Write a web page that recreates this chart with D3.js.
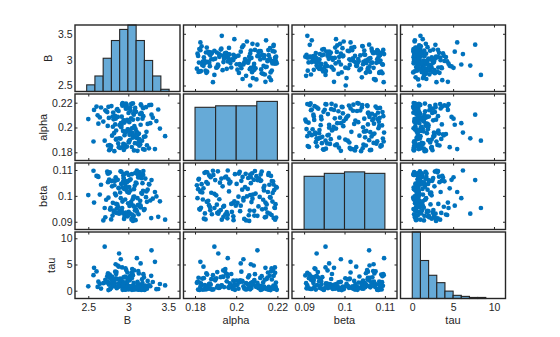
<!DOCTYPE html>
<html>
<head>
<meta charset="utf-8">
<script src="https://cdn.jsdelivr.net/npm/d3@7"></script>
<style>
  html, body { margin: 0; padding: 0; background: #fff; }
  svg { display: block; }
  text { font-family: "Liberation Sans", Arial, Helvetica, sans-serif; fill: #262626; }
</style>
</head>
<body>
<svg id="chart" width="560" height="337"></svg>
<script>
// ---- samples (one entry per draw) ----
const B = [
  2.705, 3.290, 2.885, 3.107, 2.906, 3.333, 3.154, 2.842, 2.500, 3.460,
  3.012, 2.874, 3.186, 2.953, 3.064, 2.761, 2.918, 3.227, 3.041, 2.983,
  2.807, 3.093, 2.965, 3.138, 2.724, 3.005, 2.941, 3.172, 2.856, 3.258,
  2.617, 3.052, 2.978, 3.119, 2.836, 3.024, 2.903, 3.306, 2.772, 3.081,
  2.992, 3.163, 2.845, 3.037, 2.958, 2.688, 3.124, 2.927, 3.071, 2.816,
  3.213, 2.969, 3.008, 2.743, 3.146, 2.881, 3.058, 2.934, 3.275, 2.565,
  3.097, 2.826, 2.986, 3.132, 2.752, 3.018, 2.947, 3.184, 2.863, 3.045,
  2.644, 3.109, 2.974, 3.233, 2.914, 3.068, 2.797, 3.156, 2.938, 3.351,
  3.029, 2.713, 2.961, 3.177, 2.852, 3.086, 2.997, 3.242, 2.786, 3.003,
  2.923, 3.142, 2.834, 3.049, 2.659, 3.115, 2.956, 3.195, 2.878, 3.062,
  2.768, 3.034, 2.982, 3.286, 2.898, 3.167, 2.822, 3.076, 2.603, 3.128,
  2.949, 3.015, 2.737, 3.204, 2.971, 3.091, 2.868, 3.149, 2.911, 3.374,
  3.055, 2.789, 2.935, 3.119, 2.848, 3.027, 2.779, 3.188, 2.966, 3.262,
  2.626, 3.083, 2.989, 3.138, 2.757, 3.044, 2.929, 3.395, 2.811, 3.073,
  3.221, 2.944, 2.803, 3.103, 2.572, 3.006, 2.891, 3.163, 2.746, 3.058
];
const alpha = [
  0.1894, 0.2103, 0.1913, 0.1959, 0.2035, 0.1826, 0.2022, 0.2071, 0.2068, 0.1930,
  0.2043, 0.1872, 0.2156, 0.1938, 0.2114, 0.1817, 0.2087, 0.1965, 0.2189, 0.1846,
  0.2006, 0.1921, 0.2172, 0.1853, 0.2131, 0.1979, 0.2058, 0.1894, 0.2143, 0.1832,
  0.2098, 0.1957, 0.2184, 0.1868, 0.2025, 0.2163, 0.1911, 0.2079, 0.1824, 0.2137,
  0.1986, 0.2119, 0.1903, 0.2191, 0.1862, 0.2048, 0.1945, 0.2176, 0.1815, 0.2066,
  0.1928, 0.2152, 0.1879, 0.2013, 0.2108, 0.1841, 0.2194, 0.1972, 0.2035, 0.1887,
  0.2126, 0.1809, 0.2061, 0.1951, 0.2167, 0.1898, 0.2039, 0.1826, 0.2148, 0.1994,
  0.2081, 0.1916, 0.2179, 0.1857, 0.2017, 0.2103, 0.1934, 0.2186, 0.1869, 0.2052,
  0.1962, 0.2139, 0.1838, 0.2071, 0.1908, 0.2158, 0.1983, 0.2029, 0.1851, 0.2117,
  0.2188, 0.1876, 0.2094, 0.1947, 0.2161, 0.1812, 0.2046, 0.1925, 0.2133, 0.1998,
  0.1859, 0.2074, 0.1969, 0.2182, 0.1835, 0.2111, 0.1954, 0.2011, 0.2169, 0.1882,
  0.2056, 0.1941, 0.2124, 0.1821, 0.2193, 0.1987, 0.2085, 0.1864, 0.2002, 0.2145,
  0.1918, 0.2173, 0.1848, 0.2068, 0.1976, 0.2135, 0.1829, 0.2091, 0.1959, 0.2181,
  0.2031, 0.1874, 0.2154, 0.1906, 0.2077, 0.1843, 0.2197, 0.1991, 0.2121, 0.1937,
  0.2164, 0.1819, 0.2088, 0.1967, 0.2142, 0.1889, 0.2019, 0.2177, 0.1855, 0.2063
];
const beta = [
  0.0953, 0.1061, 0.0931, 0.1098, 0.0991, 0.1015, 0.0962, 0.1072, 0.1003, 0.0908,
  0.1034, 0.0957, 0.1081, 0.0919, 0.0996, 0.1063, 0.0942, 0.1017, 0.0908, 0.1089,
  0.0973, 0.1051, 0.0926, 0.1092, 0.0985, 0.0938, 0.1069, 0.1008, 0.0951, 0.1045,
  0.1076, 0.0913, 0.1022, 0.0964, 0.1058, 0.0931, 0.1095, 0.0989, 0.0947, 0.1039,
  0.0921, 0.1083, 0.1002, 0.0968, 0.1047, 0.0905, 0.1071, 0.0978, 0.1026, 0.0943,
  0.1067, 0.0935, 0.1012, 0.1086, 0.0959, 0.1029, 0.0916, 0.1054, 0.0982, 0.1097,
  0.0948, 0.1041, 0.0925, 0.1074, 0.0993, 0.1061, 0.0911, 0.1019, 0.0967, 0.1084,
  0.1005, 0.0939, 0.1056, 0.0977, 0.1093, 0.0923, 0.1037, 0.0955, 0.1079, 0.0998,
  0.1064, 0.0917, 0.0986, 0.1049, 0.0934, 0.1088, 0.0971, 0.1024, 0.0909, 0.1058,
  0.0953, 0.1072, 0.1009, 0.0928, 0.1043, 0.0991, 0.1085, 0.0945, 0.1031, 0.0962,
  0.1091, 0.0976, 0.1052, 0.0914, 0.1013, 0.1068, 0.0937, 0.0997, 0.1077, 0.0929,
  0.1027, 0.0961, 0.1094, 0.0949, 0.1035, 0.0906, 0.1062, 0.0981, 0.1046, 0.0919,
  0.0987, 0.1057, 0.0932, 0.1082, 0.0969, 0.1021, 0.0954, 0.1096, 0.0927, 0.1044,
  0.1073, 0.0944, 0.1015, 0.0966, 0.1087, 0.0912, 0.1032, 0.0979, 0.1059, 0.0958,
  0.0995, 0.1066, 0.0924, 0.1048, 0.0974, 0.1081, 0.0941, 0.1011, 0.1053, 0.0903
];
const tau = [
  8.40, 7.70, 7.10, 6.20, 6.00, 5.50, 5.20, 5.05, 0.84, 1.00,
  0.42, 1.35, 0.18, 2.64, 0.77, 2.47, 1.82, 0.55, 3.41, 0.31,
  1.12, 0.66, 4.27, 0.23, 1.58, 0.89, 2.56, 2.18, 0.47, 1.04,
  0.71, 3.12, 0.36, 1.27, 3.62, 2.85, 0.93, 1.66, 0.28, 0.58,
  1.91, 0.14, 2.37, 0.81, 0.39, 1.43, 3.76, 0.62, 0.21, 1.19,
  0.97, 2.52, 2.19, 1.74, 0.49, 4.58, 0.33, 1.08, 0.85, 2.96,
  0.26, 1.51, 0.68, 3.28, 0.11, 1.97, 0.44, 0.79, 2.23, 0.16,
  1.31, 0.53, 3.94, 0.38, 1.62, 1.48, 2.71, 0.91, 1.22, 0.29,
  0.64, 2.09, 0.19, 1.46, 3.55, 0.73, 0.34, 1.87, 0.57, 2.44,
  4.44, 1.15, 0.87, 4.12, 0.41, 1.69, 0.25, 2.58, 0.74, 1.03,
  3.08, 0.51, 1.38, 2.83, 2.31, 0.95, 1.79, 0.37, 3.67, 0.22,
  1.25, 0.69, 2.77, 0.15, 1.55, 0.46, 4.81, 0.83, 1.94, 0.32,
  0.59, 2.14, 1.09, 0.27, 3.19, 0.76, 1.41, 3.15, 2.66, 0.98,
  1.72, 0.35, 3.47, 0.61, 1.17, 2.39, 0.17, 1.28, 0.88, 3.86,
  0.45, 1.61, 2.02, 0.72, 4.36, 0.24, 1.99, 0.54, 3.33, 2.91
];

// ---- variable names, axis limits, ticks ----
const varNames = ["B", "alpha", "beta", "tau"];
const xLimB = [2.334, 3.646],  yLimB = [2.384, 3.670];
const xLimAlpha = [0.1744, 0.2254], yLimAlpha = [0.1734, 0.2270];
const xLimBeta = [0.0870, 0.1130],  yLimBeta = [0.0870, 0.1127];
const xLimTau = [-1.44, 11.41],  yLimTau = [-1.49, 11.20];
const ticksB = [2.5, 3, 3.5],        tickLabelsB = ["2.5", "3", "3.5"];
const ticksAlpha = [0.18, 0.2, 0.22], tickLabelsAlpha = ["0.18", "0.2", "0.22"];
const ticksBeta = [0.09, 0.1, 0.11],  tickLabelsBeta = ["0.09", "0.1", "0.11"];
const ticksTau = [0, 5, 10],          tickLabelsTau = ["0", "5", "10"];

// ---- histogram bins on the diagonal ----
const histEdgesB = [2.480, 2.583, 2.686, 2.789, 2.892, 2.995, 3.098, 3.201, 3.304, 3.407, 3.510];
const histCountsB = [3, 7, 15, 23, 28, 30, 23, 14, 7, 1];
const histEdgesAlpha = [0.18, 0.19, 0.20, 0.21, 0.22];
const histCountsAlpha = [36, 37, 37, 40];
const histEdgesBeta = [0.090, 0.095, 0.100, 0.105, 0.110];
const histCountsBeta = [36, 38, 39, 38];
const histEdgesTau = [0, 1, 2, 3, 4, 5, 6, 7, 8, 9];
const histCountsTau = [63, 36, 22, 15, 7, 3, 2, 1, 1];
const histTop = [30, 45, 45, 63];

const columns = [B, alpha, beta, tau];
const xLims = [xLimB, xLimAlpha, xLimBeta, xLimTau];
const yLims = [yLimB, yLimAlpha, yLimBeta, yLimTau];
const tickVals = [ticksB, ticksAlpha, ticksBeta, ticksTau];
const tickTexts = [tickLabelsB, tickLabelsAlpha, tickLabelsBeta, tickLabelsTau];
const histEdges = [histEdgesB, histEdgesAlpha, histEdgesBeta, histEdgesTau];
const histCounts = [histCountsB, histCountsAlpha, histCountsBeta, histCountsTau];

// ---- layout ----
const gridLeft = 75, gridRight = 505.5, colGap = 3.5;
const gridTop = 25, gridBottom = 298.5, rowGap = 2.5;
const n = varNames.length;
const pw = (gridRight - gridLeft - colGap * (n - 1)) / n;
const ph = (gridBottom - gridTop - rowGap * (n - 1)) / n;
const px = j => gridLeft + j * (pw + colGap);
const py = i => gridTop + i * (ph + rowGap);

const dotColor = "rgb(0,114,189)";
const barColor = "rgb(102,170,215)";
const edgeColor = "#262626";
const tickFont = 10.5, labelFont = 11, tickLen = 2.5;

const svg = d3.select("#chart");

for (let i = 0; i < n; i++) {
  for (let j = 0; j < n; j++) {
    const g = svg.append("g").attr("transform", `translate(${px(j)},${py(i)})`);
    const xs = d3.scaleLinear().domain(xLims[j]).range([0, pw]);
    const ys = d3.scaleLinear().domain(yLims[i]).range([ph, 0]);

    g.append("rect").attr("width", pw).attr("height", ph).attr("fill", "#fff");

    if (i === j) {
      // histogram of the variable
      const hy = d3.scaleLinear().domain([0, histTop[i]]).range([ph, 0]);
      const edges = histEdges[i];
      g.selectAll("rect.bar")
        .data(histCounts[i])
        .join("rect")
        .attr("class", "bar")
        .attr("x", (d, k) => xs(edges[k]))
        .attr("width", (d, k) => xs(edges[k + 1]) - xs(edges[k]))
        .attr("y", d => hy(d))
        .attr("height", d => ph - hy(d))
        .attr("fill", barColor)
        .attr("stroke", edgeColor)
        .attr("stroke-width", 1.1);
    } else {
      // inward tick marks on all four sides
      const inner = [
        [d3.axisBottom(xs), 0, ph, tickVals[j]],
        [d3.axisTop(xs), 0, 0, tickVals[j]],
        [d3.axisLeft(ys), 0, 0, tickVals[i]],
        [d3.axisRight(ys), pw, 0, tickVals[i]]
      ];
      inner.forEach(([ax, tx, ty, tv]) => {
        const a = g.append("g").attr("transform", `translate(${tx},${ty})`)
          .call(ax.tickValues(tv).tickSizeInner(-tickLen).tickSizeOuter(0).tickFormat(""));
        a.select(".domain").remove();
        a.selectAll(".tick line").attr("stroke", edgeColor).attr("stroke-width", 1);
      });
      // scatter of variable j (x) against variable i (y)
      g.selectAll("circle")
        .data(d3.range(columns[j].length))
        .join("circle")
        .attr("cx", k => xs(columns[j][k]))
        .attr("cy", k => ys(columns[i][k]))
        .attr("r", 2.35)
        .attr("fill", dotColor);
    }

    g.append("rect").attr("width", pw).attr("height", ph)
      .attr("fill", "none").attr("stroke", edgeColor).attr("stroke-width", 1.4);

    // bottom-row tick labels and variable names
    if (i === n - 1) {
      const ax = g.append("g").attr("transform", `translate(0,${ph})`)
        .call(d3.axisBottom(xs).tickValues(tickVals[j])
          .tickFormat((d, k) => tickTexts[j][k]).tickSize(0).tickPadding(5));
      ax.select(".domain").remove();
      ax.selectAll("text").attr("font-size", tickFont).attr("fill", "#262626")
        .style("font-family", '"Liberation Sans", Arial, sans-serif');
      g.append("text")
        .attr("x", pw / 2).attr("y", 323.5 - py(i))
        .attr("text-anchor", "middle").attr("font-size", labelFont)
        .text(varNames[j]);
    }

    // left-column tick labels and variable names
    if (j === 0) {
      const ax = g.append("g")
        .call(d3.axisLeft(ys).tickValues(tickVals[i])
          .tickFormat((d, k) => tickTexts[i][k]).tickSize(0).tickPadding(2.5));
      ax.select(".domain").remove();
      const labels = ax.selectAll("text").attr("font-size", tickFont).attr("fill", "#262626")
        .style("font-family", '"Liberation Sans", Arial, sans-serif');
      let maxW = 0;
      labels.each(function () { maxW = Math.max(maxW, this.getComputedTextLength()); });
      const bx = -2.5 - maxW - 5.5;
      g.append("text")
        .attr("transform", `translate(${bx},${ph / 2}) rotate(-90)`)
        .attr("text-anchor", "middle").attr("font-size", labelFont)
        .text(varNames[i]);
    }
  }
}
</script>
</body>
</html>
